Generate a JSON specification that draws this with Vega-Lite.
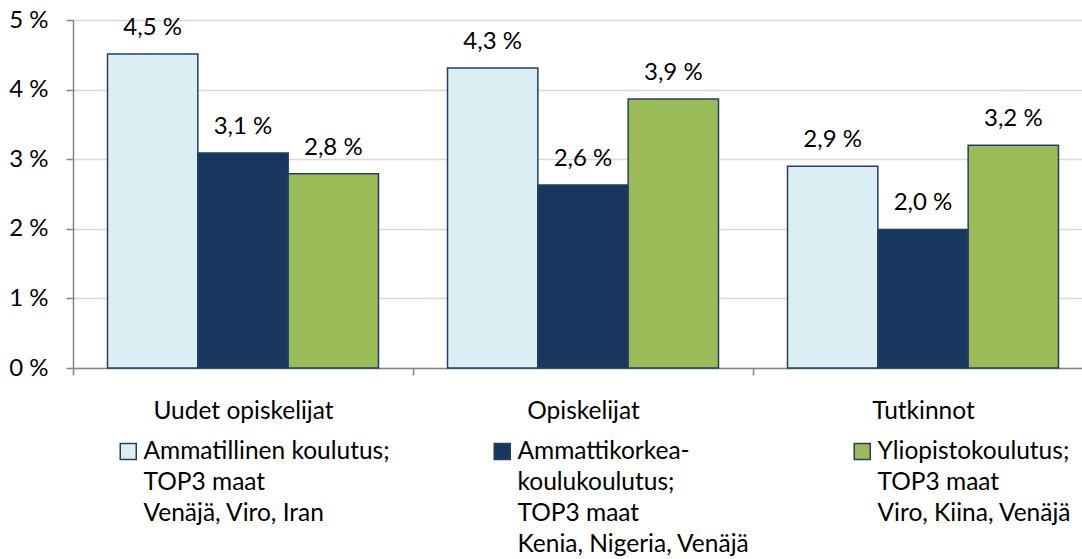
{
  "$schema": "https://vega.github.io/schema/vega-lite/v6.json",
  "width": 1009,
  "height": 348,
  "autosize": {"type": "none"},
  "padding": {"left": 73, "top": 20, "right": 0, "bottom": 191},
  "background": "white",
  "data": {
    "values": [
      {"group": "Uudet opiskelijat", "type": "Ammatillinen koulutus; TOP3 maat Venäjä, Viro, Iran", "value": 4.51, "label": "4,5 %"},
      {"group": "Uudet opiskelijat", "type": "Ammattikorkeakoulukoulutus; TOP3 maat Kenia, Nigeria, Venäjä", "value": 3.09, "label": "3,1 %"},
      {"group": "Uudet opiskelijat", "type": "Yliopistokoulutus; TOP3 maat Viro, Kiina, Venäjä", "value": 2.79, "label": "2,8 %"},
      {"group": "Opiskelijat", "type": "Ammatillinen koulutus; TOP3 maat Venäjä, Viro, Iran", "value": 4.31, "label": "4,3 %"},
      {"group": "Opiskelijat", "type": "Ammattikorkeakoulukoulutus; TOP3 maat Kenia, Nigeria, Venäjä", "value": 2.63, "label": "2,6 %"},
      {"group": "Opiskelijat", "type": "Yliopistokoulutus; TOP3 maat Viro, Kiina, Venäjä", "value": 3.865, "label": "3,9 %"},
      {"group": "Tutkinnot", "type": "Ammatillinen koulutus; TOP3 maat Venäjä, Viro, Iran", "value": 2.9, "label": "2,9 %"},
      {"group": "Tutkinnot", "type": "Ammattikorkeakoulukoulutus; TOP3 maat Kenia, Nigeria, Venäjä", "value": 1.99, "label": "2,0 %"},
      {"group": "Tutkinnot", "type": "Yliopistokoulutus; TOP3 maat Viro, Kiina, Venäjä", "value": 3.2, "label": "3,2 %"}
    ]
  },
  "encoding": {
    "x": {
      "field": "group",
      "type": "nominal",
      "sort": ["Uudet opiskelijat", "Opiskelijat", "Tutkinnot"],
      "title": null,
      "scale": {"paddingInner": 0, "paddingOuter": 0, "range": [0, 1020]},
      "axis": {
        "tickBand": "extent",
        "labelAngle": 0,
        "labelLimit": 400,
        "domainColor": "#868686",
        "domainWidth": 1.5,
        "tickColor": "#868686",
        "tickWidth": 1.5,
        "tickSize": 7,
        "labelPadding": 24,
        "labelFont": "Lato",
        "labelFontSize": 24.5,
        "labelColor": "#000000",
        "grid": false
      }
    },
    "xOffset": {
      "field": "type",
      "type": "nominal",
      "sort": [
        "Ammatillinen koulutus; TOP3 maat Venäjä, Viro, Iran",
        "Ammattikorkeakoulukoulutus; TOP3 maat Kenia, Nigeria, Venäjä",
        "Yliopistokoulutus; TOP3 maat Viro, Kiina, Venäjä"
      ],
      "scale": {"paddingInner": 0, "paddingOuter": 0.382}
    },
    "y": {
      "field": "value",
      "type": "quantitative",
      "title": null,
      "scale": {"domain": [0, 5], "nice": false},
      "axis": {
        "values": [0, 1, 2, 3, 4, 5],
        "labelExpr": "datum.value + ' %'",
        "grid": true,
        "gridColor": "#D9D9D9",
        "gridWidth": 1.5,
        "domainColor": "#868686",
        "domainWidth": 1.5,
        "tickColor": "#868686",
        "tickWidth": 1.5,
        "tickSize": 7,
        "labelPadding": 18,
        "labelFont": "Lato",
        "labelFontSize": 24,
        "labelColor": "#000000"
      }
    }
  },
  "layer": [
    {
      "mark": {"type": "bar", "stroke": "#243F60", "strokeWidth": 1.5},
      "encoding": {
        "color": {
          "field": "type",
          "type": "nominal",
          "sort": [
            "Ammatillinen koulutus; TOP3 maat Venäjä, Viro, Iran",
            "Ammattikorkeakoulukoulutus; TOP3 maat Kenia, Nigeria, Venäjä",
            "Yliopistokoulutus; TOP3 maat Viro, Kiina, Venäjä"
          ],
          "scale": {"range": ["#DBEEF4", "#17375E", "#9BBB59"]},
          "legend": {
            "title": null,
            "orient": "none",
            "legendX": 43,
            "legendY": 427,
            "direction": "horizontal",
            "columns": 3,
            "columnPadding": 100,
            "padding": 0,
            "symbolType": "M-1,-2H1V0H-1Z",
            "symbolSize": 256,
            "symbolStrokeColor": "#243F60",
            "symbolStrokeWidth": 1.5,
            "symbolOpacity": 1,
            "labelFont": "Lato",
            "labelFontSize": 24.5,
            "labelColor": "#000000",
            "labelBaseline": "alphabetic",
            "labelOffset": 3,
            "labelLimit": 600,
            "labelExpr": "indexof(datum.label, 'Ammatillinen') == 0 ? ['Ammatillinen koulutus;', 'TOP3 maat', 'Venäjä, Viro, Iran', ''] : indexof(datum.label, 'Ammattikorkea') == 0 ? ['Ammattikorkea-', 'koulukoulutus;', 'TOP3 maat', 'Kenia, Nigeria, Venäjä'] : ['Yliopistokoulutus;', 'TOP3 maat', 'Viro, Kiina, Venäjä', '']"
          }
        }
      }
    },
    {
      "mark": {"type": "text", "baseline": "alphabetic", "dy": -19, "font": "Lato", "fontSize": 24, "color": "#000000"},
      "encoding": {"text": {"field": "label", "type": "nominal"}}
    }
  ],
  "config": {
    "view": {"stroke": null},
    "style": {"guide-label": {"lineHeight": 31}}
  }
}
